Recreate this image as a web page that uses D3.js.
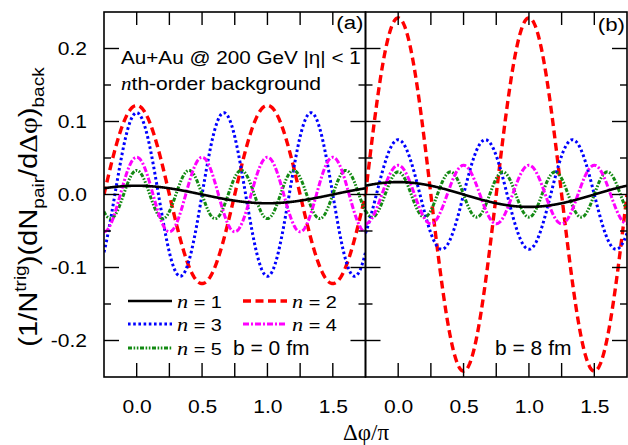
<!DOCTYPE html>
<html><head><meta charset="utf-8">
<script src="https://cdn.jsdelivr.net/npm/d3@7"></script>
<style>
html,body{margin:0;padding:0;background:#fff;}
text{font-family:"Liberation Sans",Arial,sans-serif;fill:#000;}
</style></head>
<body><svg id="chart" width="628" height="445"></svg>
<script>
// ---- data ----
const harmonics = [1, 2, 3, 4, 5];
const ampPanelA = [0.012, 0.122, 0.112, 0.051, 0.033];   // b = 0 fm
const ampPanelB = [0.017, 0.242, 0.075, 0.040, 0.031];   // b = 8 fm
const panelLabels = ["(a)", "(b)"];
const impactLabels = ["b = 0 fm", "b = 8 fm"];
const xTickValues = [0, 0.5, 1.0, 1.5];
const xTickLabels = ["0.0", "0.5", "1.0", "1.5"];
const yTickValues = [-0.2, -0.1, 0, 0.1, 0.2];
const yTickLabels = ["-0.2", "-0.1", "0.0", "0.1", "0.2"];
const xDomain = [-0.25, 1.75];
const yDomain = [-0.25, 0.25];

// ---- styles ----
const colors = ["#000000", "#ff0000", "#0000ff", "#ff00ff", "#138a13"];
const dashes = [null, "8,4.5", "2.6,2.6", "6,2,2,2", "4,1.6,1.6,1.6,1.6,1.6"];
const widths = [2.6, 3.4, 3, 3, 3];
const SX = 1.17; // horizontal stretch of the original font

const svg = d3.select("#chart");
const yTop = 12, yBot = 377;
const panels = [{x0: 104, x1: 365.5, amps: ampPanelA}, {x0: 365.5, x1: 627, amps: ampPanelB}];
const y = d3.scaleLinear().domain(yDomain).range([yBot, yTop]);

const defs = svg.append("defs");

panels.forEach((p, pi) => {
  const x = d3.scaleLinear().domain(xDomain).range([p.x0, p.x1]);
  const g = svg.append("g");
  defs.append("clipPath").attr("id", "clip" + pi)
    .append("rect").attr("x", p.x0).attr("y", yTop).attr("width", p.x1 - p.x0).attr("height", yBot - yTop);

  // curves: Fourier component A_n cos(n Δφ)
  const xs = d3.range(0, 601).map(i => xDomain[0] + (xDomain[1] - xDomain[0]) * i / 600);
  const line = d3.line().x(d => x(d[0])).y(d => y(d[1]));
  const cg = g.append("g").attr("clip-path", `url(#clip${pi})`);
  [1, 2, 4, 3, 0].forEach(k => {
    const n = harmonics[k], A = p.amps[k];
    const pts = xs.map(v => [v, A * Math.cos(n * Math.PI * v)]);
    cg.append("path").attr("d", line(pts)).attr("fill", "none")
      .attr("stroke", colors[k]).attr("stroke-width", widths[k])
      .attr("stroke-dasharray", dashes[k]);
  });

  // ticks (inward)
  const xMinor = d3.range(0, 7).map(i => i * 0.25);
  const yMinor = [-0.15, -0.05, 0.05, 0.15];
  const tg = g.append("g").attr("stroke", "#000").attr("stroke-width", 1.4);
  xMinor.forEach(v => {
    tg.append("line").attr("x1", x(v)).attr("x2", x(v)).attr("y1", yBot).attr("y2", yBot - 14);
    tg.append("line").attr("x1", x(v)).attr("x2", x(v)).attr("y1", yTop).attr("y2", yTop + 13);
  });
  yTickValues.forEach(v => {
    tg.append("line").attr("x1", p.x0).attr("x2", p.x0 + 15).attr("y1", y(v)).attr("y2", y(v));
    tg.append("line").attr("x1", p.x1).attr("x2", p.x1 - 15).attr("y1", y(v)).attr("y2", y(v));
  });
  yMinor.forEach(v => {
    tg.append("line").attr("x1", p.x0).attr("x2", p.x0 + 7).attr("y1", y(v)).attr("y2", y(v));
    tg.append("line").attr("x1", p.x1).attr("x2", p.x1 - 7).attr("y1", y(v)).attr("y2", y(v));
  });

  // bottom axis labels
  const xAxis = d3.axisBottom(x).tickValues(xTickValues).tickFormat((d, i) => xTickLabels[i]).tickSize(0).tickPadding(0);
  const ax = g.append("g").attr("transform", `translate(0,${yBot})`).call(xAxis);
  ax.select(".domain").remove();
  ax.selectAll("text").attr("y", 36).attr("dy", null)
    .attr("transform", `scale(${SX},1)`)
    .attr("x", 0)
    .style("font-size", "18px")
    .style("font-family", "Liberation Sans, Arial, sans-serif");

  // frame
  g.append("rect").attr("x", p.x0).attr("y", yTop).attr("width", p.x1 - p.x0).attr("height", yBot - yTop)
    .attr("fill", "none").attr("stroke", "#000").attr("stroke-width", 1.6);

  // panel label
  g.append("text").attr("transform", `translate(${p.x1 - 2},${pi === 0 ? 29 : 31}) scale(${SX},1)`)
    .attr("text-anchor", "end").style("font-size", "19px").text(panelLabels[pi]);
  // impact parameter
  g.append("text").attr("transform", `translate(${pi === 0 ? 233 : 495},355)`)
    .style("font-size", "21px").text(impactLabels[pi]);
});

// left y axis labels
const yAxis = d3.axisLeft(y).tickValues(yTickValues).tickFormat(d => yTickLabels[yTickValues.indexOf(d)]).tickSize(0).tickPadding(0);
const ay = svg.append("g").attr("transform", "translate(104,0)").call(yAxis);
ay.select(".domain").remove();
ay.selectAll("text").attr("x", -17 / SX).attr("dy", "0.36em")
  .attr("transform", `scale(${SX},1)`).style("font-size", "18px")
  .style("font-family", "Liberation Sans, Arial, sans-serif");

// annotation text
svg.append("text").attr("transform", `translate(121,64) scale(1.15,1)`).style("font-size", "18px")
  .text("Au+Au @ 200 GeV |\u03b7| < 1");
const t2 = svg.append("text").attr("transform", `translate(121,90) scale(${SX},1)`).style("font-size", "18px");
t2.append("tspan").style("font-family", "Liberation Serif, serif").style("font-style", "italic").text("n");
t2.append("tspan").text("th-order background");

// legend
const legendRows = [
  {k: 0, lx: 128, tx: 177, ly: 301}, {k: 1, lx: 243, tx: 292, ly: 301},
  {k: 2, lx: 128, tx: 177, ly: 324}, {k: 3, lx: 243, tx: 292, ly: 324},
  {k: 4, lx: 128, tx: 177, ly: 348}
];
const lg = svg.append("g");
legendRows.forEach(r => {
  lg.append("line").attr("x1", r.lx).attr("x2", r.lx + 44).attr("y1", r.ly).attr("y2", r.ly)
    .attr("stroke", colors[r.k]).attr("stroke-width", widths[r.k]).attr("stroke-dasharray", dashes[r.k]);
  const t = lg.append("text").attr("transform", `translate(${r.tx},${r.ly + 6.5}) scale(${SX},1)`).style("font-size", "17px");
  t.append("tspan").style("font-family", "Liberation Serif, serif").style("font-style", "italic").style("font-size", "19px").text("n");
  t.append("tspan").text(" = " + harmonics[r.k]);
});

// axis titles
svg.append("text").attr("x", 366).attr("y", 440).attr("text-anchor", "middle")
  .style("font-family", "Liberation Serif, serif").style("font-size", "23px").text("\u0394\u03c6/\u03c0");

const yt = svg.append("text").attr("transform", `translate(37,207) rotate(-90) scale(1.12,1)`)
  .attr("text-anchor", "middle").style("font-size", "26px");
yt.append("tspan").text("(1/N");
yt.append("tspan").attr("dy", -11).style("font-size", "17px").text("trig");
yt.append("tspan").attr("dy", 11).text(")(dN");
yt.append("tspan").attr("dy", 7).style("font-size", "17px").text("pair");
yt.append("tspan").attr("dy", -7).text("/d");
yt.append("tspan").style("font-family", "Liberation Serif, serif").text("\u0394\u03c6");
yt.append("tspan").text(")");
yt.append("tspan").attr("dy", 7).style("font-size", "17px").text("back");
</script></body></html>
